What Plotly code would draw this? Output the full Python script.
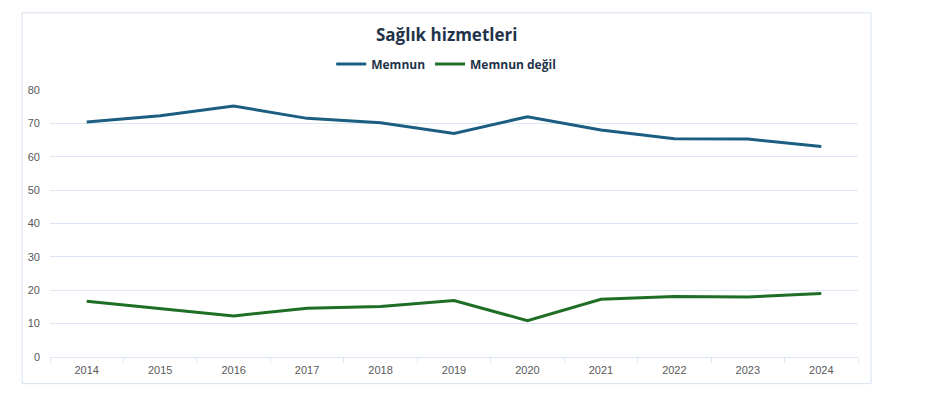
import plotly.graph_objects as go

years = ["2014", "2015", "2016", "2017", "2018", "2019", "2020", "2021", "2022", "2023", "2024"]
memnun = [70.4, 72.3, 75.2, 71.5, 70.2, 67.0, 72.0, 68.0, 65.4, 65.3, 63.1]
memnun_degil = [16.7, 14.4, 12.3, 14.6, 15.1, 16.9, 10.9, 17.3, 18.1, 18.0, 19.0]
series_names = ["Memnun", "Memnun değil"]
y_ticks = [0, 10, 20, 30, 40, 50, 60, 70, 80]
title_text = "Sağlık hizmetleri"

blue = "#1b5e82"
green = "#1f6e26"
grid = "#dde7f3"
text_dark = "#1f3349"
tick_grey = "#595959"

# page body has an 8px margin, so work in figure coordinates shifted by 8px
OFF = 8
W, H = 943 - OFF, 394 - OFF
L, R, T, B = 50.3 - OFF, 858.3 - OFF, 90.3 - OFF, 356.7 - OFF
pw, ph = R - L, B - T

def px_x(x):
    return (x - OFF - L) / pw

def px_y(y):
    return (B - (y - OFF)) / ph

fig = go.Figure()
fig.add_trace(go.Scatter(x=years, y=memnun, mode="lines", name=series_names[0],
                         line=dict(color=blue, width=3)))
fig.add_trace(go.Scatter(x=years, y=memnun_degil, mode="lines", name=series_names[1],
                         line=dict(color=green, width=3)))

fig.update_layout(
    width=W, height=H,
    margin=dict(l=L, r=W - R, t=T, b=H - B, pad=0, autoexpand=False),
    paper_bgcolor="white", plot_bgcolor="white",
    title=dict(text="<b>" + title_text + "</b>", x=(446.7 - OFF) / W, xref="container", xanchor="center",
               y=1 - (35 - OFF) / H, yanchor="middle", yref="container",
               font=dict(family="Open Sans, Lato, sans-serif", size=17, color=text_dark)),
    showlegend=True,
    legend=dict(orientation="h", x=px_x(446.5), xanchor="center", y=px_y(64.3), yanchor="middle",
                font=dict(family="Open Sans, Lato, sans-serif", size=12, color=text_dark, weight="bold"),
                itemwidth=30, bgcolor="rgba(0,0,0,0)"),
    xaxis=dict(type="category", range=[-0.5, len(years) - 0.5], showgrid=False, showline=True,
               linecolor=grid, linewidth=1,
               ticks="outside", tickson="boundaries", ticklen=5, tickcolor=grid,
               ticklabelstandoff=3,
               tickfont=dict(family="Liberation Sans, Arial, sans-serif", size=11, color=tick_grey),
               fixedrange=True),
    yaxis=dict(range=[0, 80], tickvals=y_ticks, showgrid=True, gridcolor=grid, gridwidth=1,
               zeroline=False, showline=False, ticks="", ticklabelstandoff=9,
               tickfont=dict(family="Liberation Sans, Arial, sans-serif", size=11, color=tick_grey),
               fixedrange=True),
    shapes=[dict(type="rect", xref="paper", yref="paper",
                 x0=px_x(22.3), x1=px_x(871.3), y0=px_y(383.3), y1=px_y(13.3),
                 line=dict(color="#d6e2ef", width=1), fillcolor="rgba(0,0,0,0)", layer="below")],
)

fig.write_html("out.html")
